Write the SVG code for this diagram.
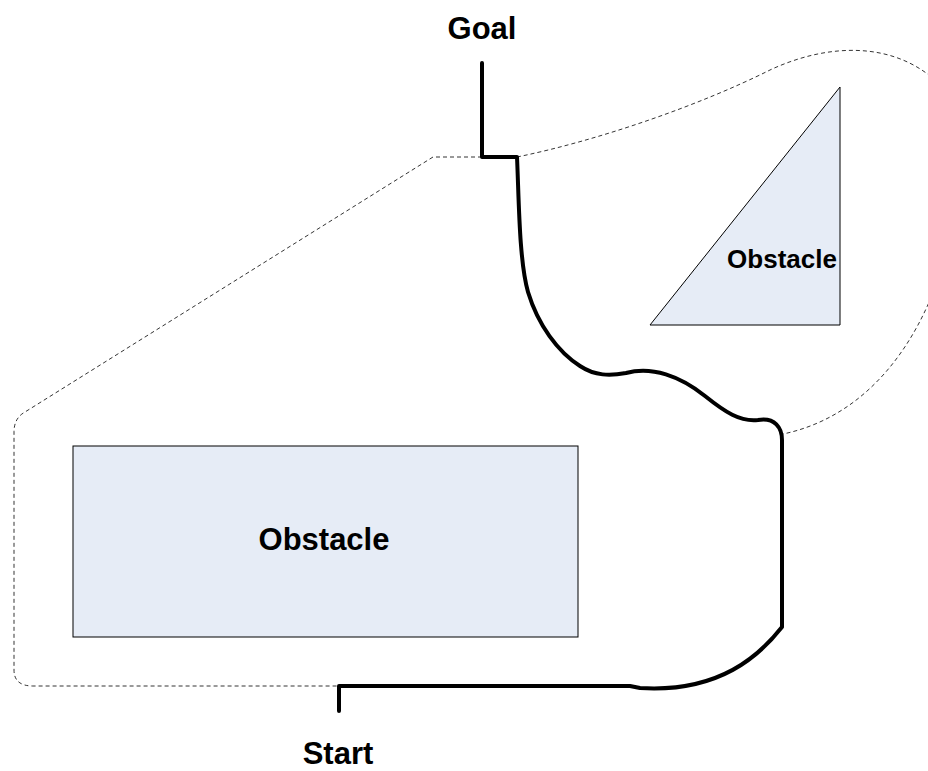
<svg xmlns="http://www.w3.org/2000/svg" width="928" height="771" viewBox="0 0 928 771">
  <style>
    .obstacle { fill: #e6ecf6; stroke: #000; stroke-width: 1; }
    .label { font-family: "Liberation Sans", Arial, sans-serif; font-weight: bold; fill: #000; text-anchor: middle; }
    .boundary { fill: none; stroke: #000; stroke-width: 0.8; stroke-dasharray: 4 3; }
    .route { fill: none; stroke: #000; stroke-width: 4; stroke-linecap: round; stroke-linejoin: round; }
  </style>
  <rect width="928" height="771" fill="#fff"/>

  <g id="connectors">
    <!-- safety envelope around obstacles -->
    <path class="boundary" d="M482,157 H433 L25,412 Q14,418 14,432 V670 Q14,686 33,686 H339"/>
    <path class="boundary" d="M517,157 C600,140 700,105 770,70 C830,42 900,40 945,90 C975,130 965,230 930,300 C900,370 850,420 783,434"/>
    <!-- planned route -->
    <path class="route" d="M482,63 V157 H517 C519,200 519,260 528,292 C538,325 558,352 580,366 C595,376 610,376 626,373 C652,366 680,376 705,396 C725,412 740,422 758,420 C775,417 782,428 782,440 V627 C760,655 720,693 640,688 L630,686 H339 V711"/>
  </g>

  <g id="obstacle-rect">
    <rect class="obstacle" x="73" y="446" width="505" height="191"/>
    <text class="label" x="324" y="550" font-size="31">Obstacle</text>
  </g>

  <g id="obstacle-triangle">
    <polygon class="obstacle" points="650,325 840,87 840,325"/>
    <text class="label" x="782" y="268" font-size="26">Obstacle</text>
  </g>

  <g id="goal">
    <text class="label" x="482" y="39" font-size="31">Goal</text>
  </g>

  <g id="start">
    <text class="label" x="338" y="764" font-size="31">Start</text>
  </g>
</svg>
